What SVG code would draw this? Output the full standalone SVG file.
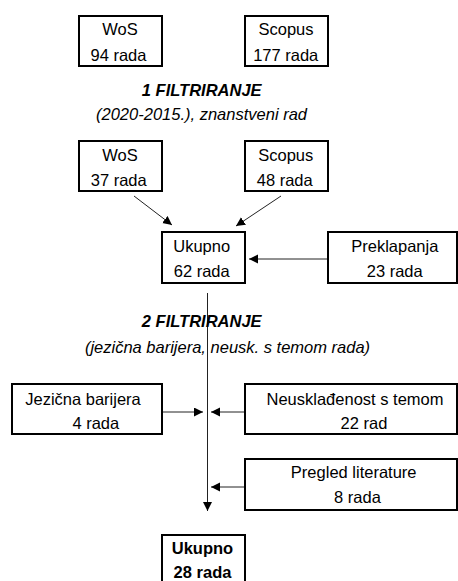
<svg xmlns="http://www.w3.org/2000/svg" width="458" height="581" viewBox="0 0 458 581">
<style>
.box{fill:#fff;stroke:#000;stroke-width:2}
.t{font-family:"Liberation Sans",Arial,sans-serif;font-size:16.5px;fill:#000;text-anchor:middle}
.b{font-weight:bold}
.h{font-family:"Liberation Sans",Arial,sans-serif;font-size:16.5px;fill:#000;text-anchor:middle;font-style:italic}
.c{stroke:#222;stroke-width:1;fill:none;marker-end:url(#ah)}
</style>
<defs>
<marker id="ah" markerUnits="userSpaceOnUse" markerWidth="10" markerHeight="10" refX="9" refY="4.5" orient="auto">
<path d="M0,0 L9,4.5 L0,9 z" fill="#000"/>
</marker>
</defs>
<rect width="458" height="581" fill="#fff"/>
<g id="connectors">
<line class="c" x1="134" y1="196" x2="172" y2="225"/>
<line class="c" x1="281" y1="196" x2="236" y2="226"/>
<line class="c" x1="328" y1="259" x2="249" y2="259"/>
<line class="c" x1="207.5" y1="293" x2="207.5" y2="511"/>
<line class="c" x1="162" y1="412" x2="203" y2="412"/>
<line class="c" x1="245" y1="412" x2="211" y2="412"/>
<line class="c" x1="245" y1="487" x2="211" y2="487"/>
</g>
<g id="wos1"><rect class="box" x="79" y="16" width="83" height="50"/><text class="t" x="120" y="35">WoS</text><text class="t" x="118.5" y="61">94 rada</text></g>
<g id="scopus1"><rect class="box" x="245" y="16" width="83" height="50"/><text class="t" x="286" y="35">Scopus</text><text class="t" x="285.7" y="61">177 rada</text></g>
<g id="filter1"><text class="h b" x="201.7" y="96">1 FILTRIRANJE</text><text class="h" x="201.5" y="120">(2020-2015.), znanstveni rad</text></g>
<g id="wos2"><rect class="box" x="79" y="141" width="83" height="50"/><text class="t" x="120" y="161">WoS</text><text class="t" x="118.7" y="186">37 rada</text></g>
<g id="scopus2"><rect class="box" x="245" y="141" width="83" height="50"/><text class="t" x="285.8" y="161">Scopus</text><text class="t" x="284.7" y="186">48 rada</text></g>
<g id="ukupno1"><rect class="box" x="162" y="232" width="83" height="51"/><text class="t" x="201.7" y="252">Ukupno</text><text class="t" x="201.7" y="277">62 rada</text></g>
<g id="preklapanja"><rect class="box" x="328" y="232" width="129" height="51"/><text class="t" x="394.8" y="252">Preklapanja</text><text class="t" x="394.7" y="277">23 rada</text></g>
<g id="filter2"><text class="h b" x="201.7" y="326.5">2 FILTRIRANJE</text><text class="h" x="227.5" y="353">(jezična barijera, neusk. s temom rada)</text></g>
<g id="jezicna"><rect class="box" x="12" y="384" width="150" height="50"/><text class="t" x="83" y="405">Jezična barijera</text><text class="t" x="95.8" y="429">4 rada</text></g>
<g id="neusk"><rect class="box" x="245" y="384" width="212" height="50"/><text class="t" x="355" y="405">Neusklađenost s temom</text><text class="t" x="364" y="429">22 rad</text></g>
<g id="pregled"><rect class="box" x="245" y="459" width="212" height="51"/><text class="t" x="353.7" y="478">Pregled literature</text><text class="t" x="357.5" y="503">8 rada</text></g>
<g id="ukupno2"><rect class="box" x="162" y="535" width="83" height="52"/><text class="t b" x="202.5" y="554">Ukupno</text><text class="t b" x="202.5" y="578">28 rada</text></g>
</svg>
